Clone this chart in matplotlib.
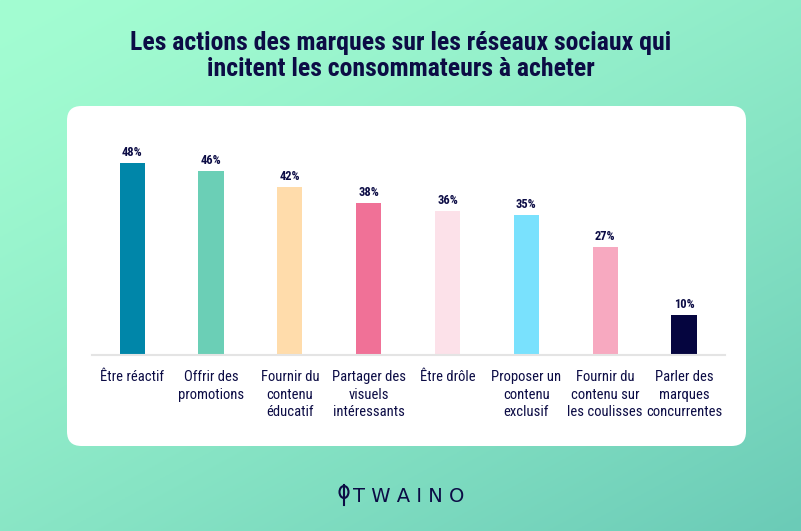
import matplotlib
matplotlib.use("Agg")
import matplotlib.pyplot as plt
import numpy as np
from matplotlib.patches import FancyBboxPatch, Ellipse
from matplotlib.lines import Line2D
from matplotlib import font_manager

categories = [
    "Être réactif",
    "Offrir des\npromotions",
    "Fournir du\ncontenu\néducatif",
    "Partager des\nvisuels\nintéressants",
    "Être drôle",
    "Proposer un\ncontenu\nexclusif",
    "Fournir du\ncontenu sur\nles coulisses",
    "Parler des\nmarques\nconcurrentes",
]
values = [48, 46, 42, 38, 36, 35, 27, 10]
colors = ["#0086a9", "#6bcfb6", "#ffdcab", "#f07197", "#fce1e9", "#79e1fd", "#f7a9c0", "#05053f"]
title = "Les actions des marques sur les réseaux sociaux qui\nincitent les consommateurs à acheter"

installed = {f.name for f in font_manager.fontManager.ttflist}
narrow = [f for f in ["Liberation Sans Narrow", "Roboto Condensed", "Open Sans Condensed",
                      "Noto Sans Condensed", "DejaVu Sans Condensed"] if f in installed]
if narrow:
    family = [narrow[0], "DejaVu Sans"]
    lab_size, val_size, title_size = 10.5, 9, 18.5
else:
    family = ["Open Sans", "DejaVu Sans"]
    lab_size, val_size, title_size = 8.6, 8, 16
plt.rcParams["font.family"] = family
navy = "#0c0c45"

fig = plt.figure(figsize=(8.01, 5.31), dpi=100)

# gradient background
bg = fig.add_axes([0, 0, 1, 1])
yy, xx = np.mgrid[0:1:200j, 0:1:300j]
t = np.clip((xx * 0.45 + yy * 0.55), 0, 1)
c0 = np.array([0xa3, 0xfd, 0xd2]) / 255
c1 = np.array([0x6b, 0xcb, 0xb7]) / 255
img = c0 + (c1 - c0) * t[..., None] ** 1.3
bg.imshow(img, extent=[0, 1, 0, 1], aspect="auto", origin="upper")
bg.set_xlim(0, 1)
bg.set_ylim(0, 1)
bg.axis("off")

# white card
card = FancyBboxPatch((67 / 801, 1 - 446 / 531), (746 - 67) / 801, (446 - 106) / 531,
                      boxstyle="round,pad=0,rounding_size=0.018", transform=fig.transFigure,
                      facecolor="white", edgecolor="none", mutation_aspect=801 / 531)
bg.add_patch(card)

fig.text(0.5, 1 - 56 / 531, title, ha="center", va="center", fontsize=title_size,
         fontweight="bold", color=navy, linespacing=1.12)

ax = fig.add_axes([92 / 801, 1 - 355 / 531, 633 / 801, 200 / 531])
ax.patch.set_alpha(0)
x = np.arange(len(categories))
bars = ax.bar(x, values, width=0.32, color=colors)
for xi, v in zip(x, values):
    ax.annotate(f"{v}%", (xi, v), xytext=(0, 3), textcoords="offset points",
                ha="center", va="bottom", fontsize=val_size, fontweight="bold", color=navy)
ax.set_xlim(-0.51, 7.52)
ax.set_ylim(0, 50)
ax.set_xticks(x)
ax.set_xticklabels(categories, fontsize=lab_size, color=navy, linespacing=1.3, va="top")
ax.tick_params(axis="x", length=0, pad=11)
ax.set_yticks([])
for s in ["top", "right", "left"]:
    ax.spines[s].set_visible(False)
ax.spines["bottom"].set_color("#e4e4e4")
ax.spines["bottom"].set_linewidth(1.5)

# logo
fig.text(0.5 + 8 / 801, 1 - 497 / 531, "T W A I N O", ha="center", va="center",
         fontsize=14, color=navy, family=["DejaVu Sans"])
lx, ly = 344 / 801, 1 - 492 / 531
bg.add_patch(Ellipse((lx, ly), 9 / 801, 12 / 531, facecolor="none", edgecolor=navy, lw=1.5,
                     transform=fig.transFigure))
bg.add_line(Line2D([lx, lx], [1 - 485 / 531, 1 - 505 / 531], color=navy, lw=1.5,
                   transform=fig.transFigure))

fig.savefig("out.png", dpi=100)
